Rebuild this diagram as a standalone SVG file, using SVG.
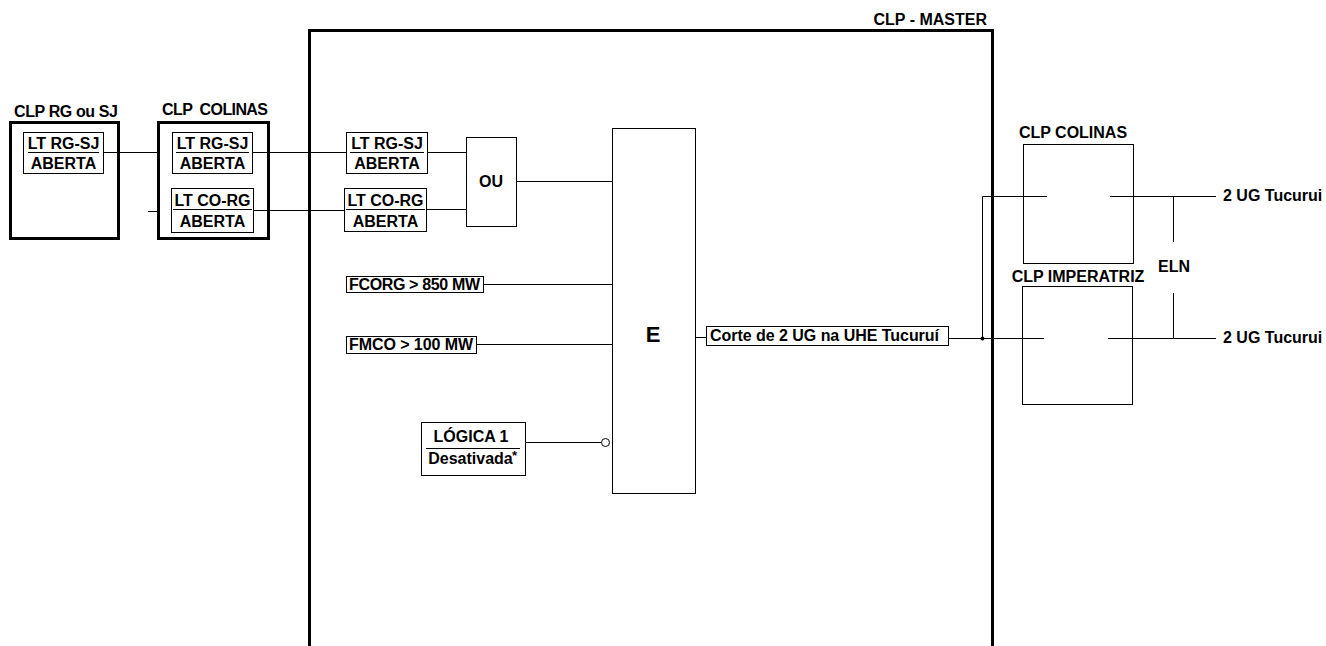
<svg xmlns="http://www.w3.org/2000/svg" width="1326" height="646" viewBox="0 0 1326 646">
<style>
text{font-family:"Liberation Sans",Arial,sans-serif;font-weight:bold;font-size:16px;fill:#000}
.c{text-anchor:middle}
.thin{fill:none;stroke:#000;stroke-width:1}
.thick{fill:none;stroke:#000;stroke-width:3}
.box{fill:#fff;stroke:#000;stroke-width:1}
</style>
<rect width="1326" height="646" fill="#fff"/>
<g id="master">
<rect class="thick" x="309.5" y="30.5" width="683" height="700"/>
<text x="987" y="25" text-anchor="end">CLP - MASTER</text>
</g>
<g id="clp-rg-sj">
<rect class="thick" x="10.5" y="122.5" width="108" height="116"/>
<text x="14" y="117" textLength="104">CLP RG ou SJ</text>
<rect class="box" x="23.5" y="132.5" width="80" height="41"/>
<text class="c" x="63.5" y="149">LT RG-SJ</text>
<line class="thin" x1="28" y1="152.5" x2="99" y2="152.5"/>
<text class="c" x="63.5" y="169">ABERTA</text>
</g>
<g id="clp-colinas-left">
<rect class="thick" x="158.5" y="122.5" width="110" height="116"/>
<text x="162" y="115" xml:space="preserve" textLength="106">CLP  COLINAS</text>
<rect class="box" x="172.5" y="132.5" width="80" height="41"/>
<text class="c" x="212.5" y="149">LT RG-SJ</text>
<line class="thin" x1="176" y1="152.5" x2="249" y2="152.5"/>
<text class="c" x="212.5" y="169">ABERTA</text>
<rect class="box" x="171.5" y="188.5" width="82" height="44"/>
<text class="c" x="212.5" y="206">LT CO-RG</text>
<line class="thin" x1="173" y1="209.5" x2="252" y2="209.5"/>
<text class="c" x="212.5" y="227">ABERTA</text>
</g>
<g id="lt-rg-sj">
<rect class="box" x="346.5" y="132.5" width="81" height="41"/>
<text class="c" x="387" y="149">LT RG-SJ</text>
<line class="thin" x1="350" y1="152.5" x2="424" y2="152.5"/>
<text class="c" x="387" y="169">ABERTA</text>
</g>
<g id="lt-co-rg">
<rect class="box" x="344.5" y="188.5" width="82" height="43"/>
<text class="c" x="385.5" y="206">LT CO-RG</text>
<line class="thin" x1="346" y1="209.5" x2="425" y2="209.5"/>
<text class="c" x="385.5" y="227">ABERTA</text>
</g>
<g id="ou">
<rect class="box" x="466.5" y="137.5" width="50" height="89"/>
<text class="c" x="491" y="187">OU</text>
</g>
<g id="fcorg">
<rect class="box" x="346.5" y="276.5" width="137" height="16"/>
<text x="349" y="290" textLength="131">FCORG &gt; 850 MW</text>
</g>
<g id="fmco">
<rect class="box" x="346.5" y="336.5" width="130" height="17"/>
<text x="349" y="350" textLength="124">FMCO &gt; 100 MW</text>
</g>
<g id="logica1">
<rect class="box" x="421.5" y="422.5" width="104" height="53"/>
<text class="c" x="471" y="442">LÓGICA 1</text>
<line class="thin" x1="426" y1="448.5" x2="520" y2="448.5"/>
<text class="c" x="470.5" y="464">Desativada</text>
<text x="512" y="460" style="font-size:13px">*</text>
</g>
<g id="e-gate">
<rect class="box" x="612.5" y="128.5" width="83" height="365"/>
<text class="c" x="653" y="342" style="font-size:22px">E</text>
</g>
<g id="corte">
<rect class="box" x="706.5" y="326.5" width="242" height="19"/>
<text x="710" y="341" textLength="229">Corte de 2 UG na UHE Tucuruí</text>
</g>
<g id="clp-colinas-right">
<rect class="box" x="1023.5" y="144.5" width="110" height="119"/>
<text class="c" x="1073" y="138">CLP COLINAS</text>
</g>
<g id="clp-imperatriz">
<rect class="box" x="1022.5" y="286.5" width="110" height="118"/>
<text class="c" x="1078" y="282">CLP IMPERATRIZ</text>
</g>
<g id="outputs">
<text x="1223" y="201">2 UG Tucurui</text>
<text x="1223" y="343">2 UG Tucurui</text>
<text class="c" x="1174" y="272">ELN</text>
</g>
<g id="connectors">
<line class="thin" x1="103" y1="152.5" x2="158" y2="152.5"/>
<line class="thin" x1="148" y1="211.5" x2="158" y2="211.5"/>
<line class="thin" x1="253" y1="152.5" x2="346" y2="152.5"/>
<line class="thin" x1="254" y1="210.5" x2="344" y2="210.5"/>
<line class="thin" x1="428" y1="152.5" x2="466" y2="152.5"/>
<line class="thin" x1="427" y1="209.5" x2="466" y2="209.5"/>
<line class="thin" x1="517" y1="181.5" x2="612" y2="181.5"/>
<line class="thin" x1="484" y1="284.5" x2="612" y2="284.5"/>
<line class="thin" x1="477" y1="344.5" x2="612" y2="344.5"/>
<line class="thin" x1="526" y1="442.5" x2="601" y2="442.5"/>
<circle cx="605.5" cy="442.5" r="4" fill="#fff" stroke="#000" stroke-width="1"/>
<line class="thin" x1="696" y1="337.5" x2="706" y2="337.5"/>
<line class="thin" x1="949" y1="338.5" x2="1044" y2="338.5"/>
<polyline class="thin" points="982.5,338 982.5,196.5 1047,196.5"/>
<circle cx="982.5" cy="338.5" r="2" fill="#000"/>
<line class="thin" x1="1110" y1="196.5" x2="1216" y2="196.5"/>
<line class="thin" x1="1108" y1="338.5" x2="1216" y2="338.5"/>
<line class="thin" x1="1173.5" y1="196" x2="1173.5" y2="242"/>
<line class="thin" x1="1173.5" y1="293" x2="1173.5" y2="338"/>
</g>
</svg>
